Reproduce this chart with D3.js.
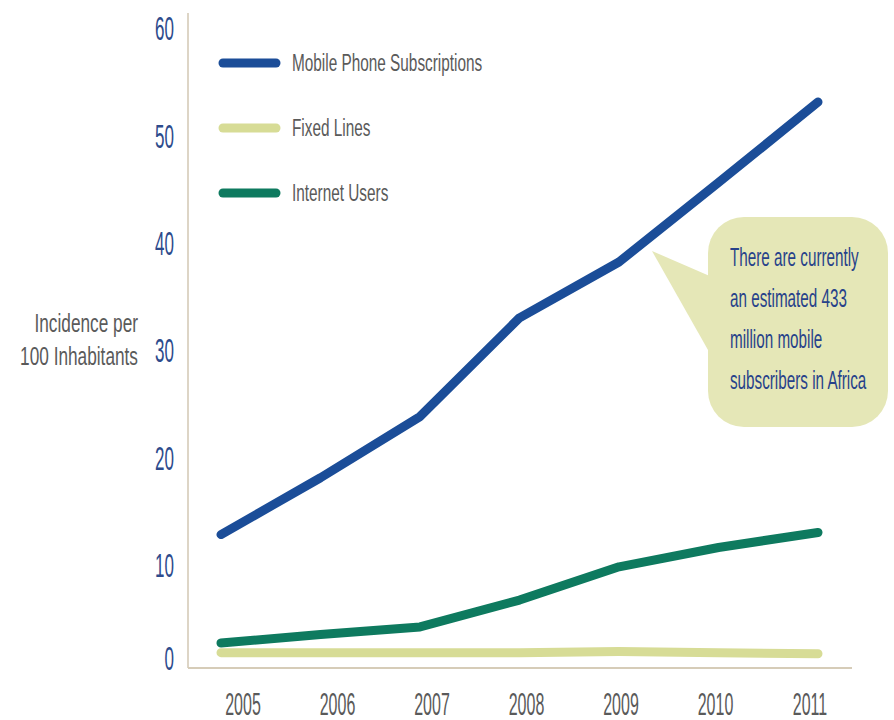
<!DOCTYPE html>
<html>
<head>
<meta charset="utf-8">
<script src="https://cdn.jsdelivr.net/npm/d3@7"></script>
<style>
  body { margin: 0; background: #fff; }
  text { font-family: "Liberation Sans", Arial, sans-serif; }
</style>
</head>
<body>
<svg width="894" height="720"></svg>
<script>
// Chart data
const years = [2005, 2006, 2007, 2008, 2009, 2010, 2011];
const mobile = [12.8, 18.1, 23.8, 33.0, 38.2, 45.6, 53.1];
const fixedLines = [1.8, 1.8, 1.8, 1.8, 1.9, 1.8, 1.7];
const internet = [2.7, 3.5, 4.2, 6.7, 9.8, 11.6, 13.0];
const yTicks = [0, 10, 20, 30, 40, 50, 60];
const seriesNames = ["Mobile Phone Subscriptions", "Fixed Lines", "Internet Users"];
const calloutLines = ["There are currently", "an estimated 433", "million mobile", "subscribers in Africa"];

const svg = d3.select("svg");

const colors = ["#1b4d98", "#d7dc96", "#0e7a5f"];

// scales
const x = d3.scalePoint().domain(years).range([221, 818]);
const xLabel = d3.scalePoint().domain(years).range([243, 810]);
const y = d3.scaleLinear().domain([0, 60]).range([672, 28]);
const baseY = 668;

// axes lines
svg.append("line")
    .attr("x1", 188).attr("x2", 188)
    .attr("y1", 13).attr("y2", baseY)
    .attr("stroke", "#ddd5c6").attr("stroke-width", 2);
svg.append("line")
    .attr("x1", 188).attr("x2", 852)
    .attr("y1", baseY).attr("y2", baseY)
    .attr("stroke", "#d6ccb8").attr("stroke-width", 2);

// y tick labels (condensed look)
svg.append("g").selectAll("text")
    .data(yTicks)
    .join("text")
    .attr("transform", d => `translate(174,${Math.min(y(d), baseY - 10)}) scale(0.5,1)`)
    .attr("dy", "0.36em")
    .attr("text-anchor", "end")
    .attr("font-size", 34)
    .attr("fill", "#2d4b8c")
    .text(d => d);

// x labels
svg.append("g").selectAll("text")
    .data(years)
    .join("text")
    .attr("transform", d => `translate(${xLabel(d)},715) scale(0.5,1)`)
    .attr("text-anchor", "middle")
    .attr("font-size", 32)
    .attr("fill", "#5a5a5a")
    .text(d => d);

// y axis title
svg.append("g").selectAll("text")
    .data(["Incidence per", "100 Inhabitants"])
    .join("text")
    .attr("transform", (d, i) => `translate(138,${332 + i * 33}) scale(0.69,1)`)
    .attr("text-anchor", "end")
    .attr("font-size", 25)
    .attr("fill", "#5a5a5a")
    .text(d => d);

// lines
const line = d3.line()
    .x((d, i) => x(years[i]))
    .y(d => y(d));

const allSeries = [mobile, fixedLines, internet];
// draw fixed first so others sit on top
[1, 2, 0].forEach(k => {
    svg.append("path")
        .datum(allSeries[k])
        .attr("d", line)
        .attr("fill", "none")
        .attr("stroke", colors[k])
        .attr("stroke-width", 9)
        .attr("stroke-linecap", "round")
        .attr("stroke-linejoin", "round");
});

// legend
const legendY = [63, 128, 193];
const legend = svg.append("g").selectAll("g")
    .data(seriesNames)
    .join("g");
legend.append("line")
    .attr("x1", 223).attr("x2", 276)
    .attr("y1", (d, i) => legendY[i]).attr("y2", (d, i) => legendY[i])
    .attr("stroke", (d, i) => colors[i])
    .attr("stroke-width", 9)
    .attr("stroke-linecap", "round");
legend.append("text")
    .attr("transform", (d, i) => `translate(292,${legendY[i] + 8}) scale(0.64,1)`)
    .attr("font-size", 24)
    .attr("fill", "#5a5a5a")
    .text(d => d);

// callout bubble
const bubble = svg.append("g");
bubble.append("path")
    .attr("d", "M652,251 L712,277 L712,357 Z")
    .attr("fill", "#e5e7b7");
bubble.append("rect")
    .attr("x", 708).attr("y", 217)
    .attr("width", 180).attr("height", 210)
    .attr("rx", 36)
    .attr("fill", "#e5e7b7");
bubble.selectAll("text")
    .data(calloutLines)
    .join("text")
    .attr("transform", (d, i) => `translate(730,${266 + i * 41}) scale(0.61,1)`)
    .attr("font-size", 25)
    .attr("fill", "#27428a")
    .text(d => d);
</script>
</body>
</html>
